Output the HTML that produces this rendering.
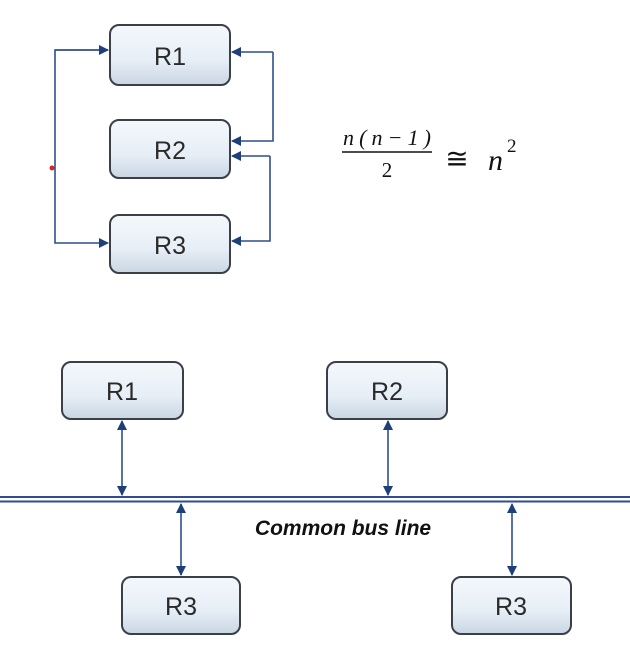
<!DOCTYPE html>
<html><head><style>
html,body{margin:0;padding:0;background:#fff;width:630px;height:671px;overflow:hidden}
</style></head><body>
<svg width="630" height="671" viewBox="0 0 630 671" xmlns="http://www.w3.org/2000/svg">
<defs>
<linearGradient id="g" x1="0" y1="0" x2="0" y2="1">
<stop offset="0" stop-color="#f4f8fc"/><stop offset="0.6" stop-color="#e6eef6"/><stop offset="1" stop-color="#c9d6e3"/>
</linearGradient>
<marker id="a" viewBox="0 0 10 10" refX="9" refY="5" markerWidth="10" markerHeight="10" orient="auto-start-reverse" markerUnits="userSpaceOnUse">
<path d="M0,0 L10,5 L0,10 z" fill="#1f3f7a"/></marker>
</defs>
<g fill="url(#g)" stroke="#3a3f48" stroke-width="2">
<rect x="110" y="25" width="120" height="60" rx="9"/>
<rect x="110" y="120" width="120" height="58" rx="9"/>
<rect x="110" y="215" width="120" height="58" rx="9"/>
<rect x="62" y="362" width="121" height="57" rx="9"/>
<rect x="327" y="362" width="120" height="57" rx="9"/>
<rect x="122" y="577" width="118" height="57" rx="9"/>
<rect x="452" y="577" width="119" height="57" rx="9"/>
</g>
<g font-family="Liberation Sans, DejaVu Sans, sans-serif" font-size="25" fill="#2a2a2a" text-anchor="middle">
<text x="170" y="65">R1</text><text x="170" y="159">R2</text><text x="170" y="254">R3</text>
<text x="122" y="400">R1</text><text x="387" y="400">R2</text>
<text x="181" y="615">R3</text><text x="511" y="615">R3</text>
</g>
<g fill="none" stroke="#2f4f8c" stroke-width="1.6">
<polyline points="108,50 55,50 55,243 108,243" marker-end="url(#a)"/>
<line x1="55" y1="50" x2="108" y2="50" marker-end="url(#a)"/>
<polyline points="273,52 273,141 232,141" marker-end="url(#a)"/>
<line x1="273" y1="52" x2="232" y2="52" marker-end="url(#a)"/>
<polyline points="270,156 270,241 232,241" marker-end="url(#a)"/>
<line x1="270" y1="156" x2="232" y2="156" marker-end="url(#a)"/>
<line x1="122" y1="421" x2="122" y2="495" marker-start="url(#a)" marker-end="url(#a)"/>
<line x1="388" y1="421" x2="388" y2="495" marker-start="url(#a)" marker-end="url(#a)"/>
<line x1="181" y1="504" x2="181" y2="575" marker-start="url(#a)" marker-end="url(#a)"/>
<line x1="512" y1="504" x2="512" y2="575" marker-start="url(#a)" marker-end="url(#a)"/>
<line x1="0" y1="497" x2="630" y2="497" stroke-width="2"/>
<line x1="0" y1="501.5" x2="630" y2="501.5" stroke-width="2"/>
</g>
<circle cx="52" cy="168" r="2.5" fill="#d22"/>
<text x="343" y="535" text-anchor="middle" font-family="Liberation Sans, sans-serif" font-size="21" font-weight="bold" font-style="italic" fill="#111">Common bus line</text>
<g font-family="Liberation Serif, DejaVu Serif, serif" fill="#111">
<text x="387" y="145" text-anchor="middle" font-size="22" font-style="italic" textLength="88">n(n−1)</text>
<line x1="342" y1="152" x2="432" y2="152" stroke="#111" stroke-width="1.5"/>
<text x="387" y="177" text-anchor="middle" font-size="21">2</text>
<text x="457" y="168" text-anchor="middle" font-size="28">≅</text>
<text x="488" y="170" font-size="30" font-style="italic">n</text>
<text x="507" y="152" font-size="19">2</text>
</g>
</svg>
</body></html>
